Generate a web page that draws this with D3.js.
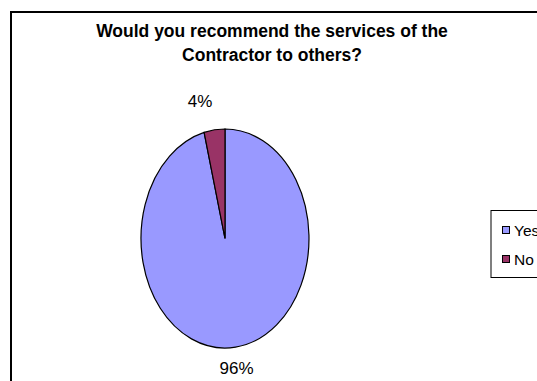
<!DOCTYPE html>
<html>
<head>
<meta charset="utf-8">
<script src="https://cdn.jsdelivr.net/npm/d3@7"></script>
<style>
  html, body { margin: 0; padding: 0; background: #fff; }
  svg { display: block; }
  text { font-family: "Liberation Sans Narrow", "Arial Narrow", "Liberation Sans", Arial, sans-serif; fill: #000; }
</style>
</head>
<body>
<svg id="chart" width="537" height="381"></svg>
<script>
// Survey answers and their shares (percent)
const categories = ["Yes", "No"];
const values = [96, 4];
const colors = ["#9999FF", "#993366"];
const titleLines = ["Would you recommend the services of the", "Contractor to others?"];

const svg = d3.select("#chart");

// Outer chart frame (runs off the right and bottom edges)
svg.append("rect")
  .attr("x", 11).attr("y", 12)
  .attr("width", 560).attr("height", 400)
  .attr("fill", "#fff")
  .attr("stroke", "#000").attr("stroke-width", 2);

// Title
svg.append("text")
  .attr("text-anchor", "middle")
  .attr("font-weight", "bold")
  .attr("font-size", 17.5)
  .selectAll("tspan")
  .data(titleLines)
  .join("tspan")
  .attr("x", 272)
  .attr("y", (d, i) => 36.5 + i * 24.5)
  .text(d => d);

// Pie, drawn as a circle and squashed into an ellipse
const cx = 225, cy = 238.5, rx = 84, ry = 109.5;
const pie = d3.pie().sort(null).value(d => d)(values);
const arc = d3.arc().innerRadius(0).outerRadius(rx);

const g = svg.append("g")
  .attr("transform", `translate(${cx},${cy}) scale(1,${ry / rx})`);

g.selectAll("path")
  .data(pie)
  .join("path")
  .attr("d", arc)
  .attr("fill", (d, i) => colors[i])
  .attr("stroke", "#000")
  .attr("stroke-width", 1.2)
  .attr("vector-effect", "non-scaling-stroke");

// Percent labels outside the ellipse
const fmt = d => Math.round(d) + "%";
const labelPos = [
  { x: 236.5, y: 374 },
  { x: 200, y: 107 }
];
pie.forEach((p, i) => {
  svg.append("text")
    .attr("text-anchor", "middle")
    .attr("font-size", 17)
    .attr("x", labelPos[i].x)
    .attr("y", labelPos[i].y)
    .text(fmt(p.data));
});

// Legend box (runs off the right edge)
const legend = svg.append("g");
legend.append("rect")
  .attr("x", 491).attr("y", 210.5)
  .attr("width", 80).attr("height", 67)
  .attr("fill", "#fff")
  .attr("stroke", "#000").attr("stroke-width", 1);

const items = legend.selectAll("g.item")
  .data(categories)
  .join("g")
  .attr("class", "item")
  .attr("transform", (d, i) => `translate(502.5,${226.5 + i * 29})`);

items.append("rect")
  .attr("width", 7).attr("height", 7)
  .attr("fill", (d, i) => colors[i])
  .attr("stroke", "#000").attr("stroke-width", 1);

items.append("text")
  .attr("x", 11.5).attr("y", 9)
  .attr("font-size", 15.5)
  .text(d => d);
</script>
</body>
</html>
